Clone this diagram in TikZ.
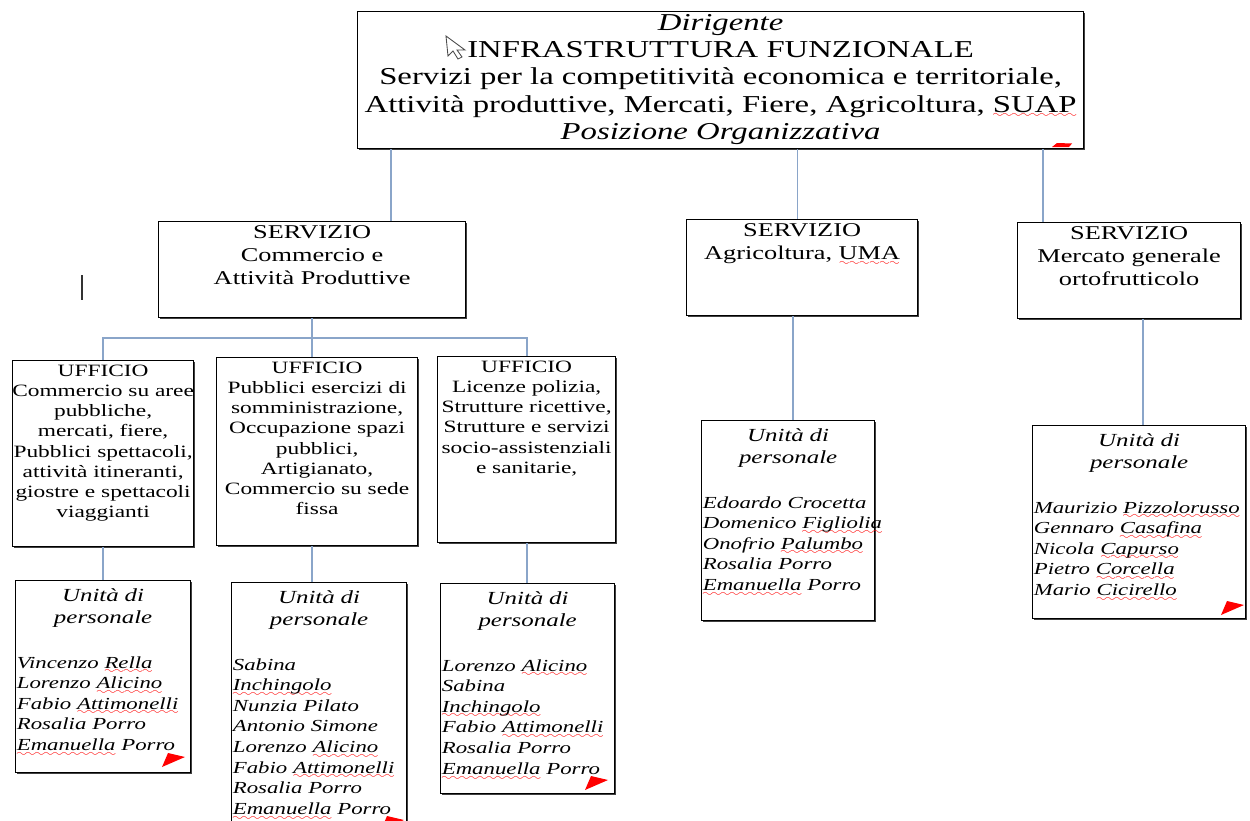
\documentclass[tikz,border=0pt]{standalone}
\usepackage{fontspec}
\setmainfont{Liberation Serif}[FakeStretch=1.35]
\usetikzlibrary{calc,shadows}

\font\wavefont=lasy6
\newcommand\spellerr[1]{\leavevmode{\setbox0\hbox{#1}\rlap{\lower3.2pt\hbox to\wd0{\color{red}\xleaders\hbox{\wavefont\char58}\hfill}}\box0}}
\newcommand\topfont{\fontsize{13.8}{15.6}\selectfont}
\newcommand\srvfont{\fontsize{11.1}{13}\selectfont}
\newcommand\ufffont{\fontsize{9.85}{11.5}\selectfont}
\newcommand\namefont{\fontsize{9.6}{11.7}\selectfont\itshape}
\newcommand\unitahead{{\centering\fontsize{10.5}{12.5}\selectfont\itshape Unità di\\personale\par}\vspace{14pt}\namefont}

\begin{document}
\begin{tikzpicture}[x=0.2mm,y=-0.2mm,
  box/.style={draw=black, line width=0.7pt, fill=white, anchor=north west, inner sep=0pt,
    drop shadow={shadow xshift=0.8pt, shadow yshift=-0.8pt, fill=black!75, opacity=1}},
  sz/.style 2 args={minimum width=#1*0.2mm, minimum height=#2*0.2mm},
  txt/.style={anchor=north, align=center, inner sep=2.5pt},
  staff/.style={anchor=north, align=left, inner xsep=1.2pt, inner ysep=4.5pt, text width=#1},
  wire/.style={draw=wireblue, line width=1.1pt},
  redflag/.pic={\fill[red] (0,14) -- (6,0) -- (23,4) -- cycle;}]
  \definecolor{wireblue}{HTML}{8AA5C9}
  \useasboundingbox (0,0) rectangle (1250,821);

  \node[box, sz={726}{137}, label={[txt, inner sep=1.5pt, font=\topfont]north:{\textit{Dirigente}\\
    INFRASTRUTTURA FUNZIONALE\\
    Servizi per la competitività economica e territoriale,\\
    Attività produttive, Mercati, Fiere, Agricoltura, \spellerr{SUAP}\\
    \textit{Posizione Organizzativa}}}] (dir) at (357,11) {};

  \node[box, sz={307}{96}, label={[txt, font=\srvfont]north:{SERVIZIO\\Commercio e\\Attività Produttive}}] (srv1) at (158,221) {};
  \node[box, sz={231}{96}, label={[txt, font=\srvfont]north:{SERVIZIO\\Agricoltura, \spellerr{UMA}}}] (srv2) at (686,219) {};
  \node[box, sz={223}{96}, label={[txt, font=\srvfont]north:{SERVIZIO\\Mercato generale\\ortofrutticolo}}] (srv3) at (1017,222) {};

  \node[box, sz={181}{186}, label={[txt, font=\ufffont]north:{UFFICIO\\Commercio su aree\\pubbliche,\\mercati, fiere,\\Pubblici spettacoli,\\attività itineranti,\\giostre e spettacoli\\viaggianti}}] (uff1) at (12,360) {};
  \node[box, sz={201}{188}, label={[txt, font=\ufffont]north:{UFFICIO\\Pubblici esercizi di\\somministrazione,\\Occupazione spazi\\pubblici,\\Artigianato,\\Commercio su sede\\fissa}}] (uff2) at (216,357) {};
  \node[box, sz={178}{186}, label={[txt, font=\ufffont]north:{UFFICIO\\Licenze polizia,\\Strutture ricettive,\\Strutture e servizi\\socio-assistenziali\\e sanitarie,}}] (uff3) at (437,356) {};

  \node[box, sz={175}{192}, label={[staff=34.5mm]north:{\unitahead
    Vincenzo \spellerr{Rella}\\Lorenzo \spellerr{Alicino}\\Fabio \spellerr{Attimonelli}\\Rosalia Porro\\\spellerr{Emanuella} Porro}}] (uni1) at (15,580) {};
  \node[box, sz={175}{260}, label={[staff=34.5mm]north:{\unitahead
    Sabina\\\spellerr{Inchingolo}\\Nunzia Pilato\\Antonio Simone\\Lorenzo \spellerr{Alicino}\\Fabio \spellerr{Attimonelli}\\Rosalia Porro\\\spellerr{Emanuella} Porro}}] (uni2) at (231,582) {};
  \node[box, sz={174}{210}, label={[staff=34.3mm]north:{\unitahead
    Lorenzo \spellerr{Alicino}\\Sabina\\\spellerr{Inchingolo}\\Fabio \spellerr{Attimonelli}\\Rosalia Porro\\\spellerr{Emanuella} Porro}}] (uni3) at (440,583) {};
  \node[box, sz={173}{200}, label={[staff=34.1mm]north:{\unitahead
    Edoardo Crocetta\\Domenico~\spellerr{Figliolia}\\Onofrio \spellerr{Palumbo}\\Rosalia Porro\\\spellerr{Emanuella} Porro}}] (uni4) at (701,420) {};
  \node[box, sz={213}{193}, label={[staff=42.1mm]north:{\unitahead
    Maurizio \spellerr{Pizzolorusso}\\Gennaro \spellerr{Casafina}\\Nicola \spellerr{Capurso}\\Pietro \spellerr{Corcella}\\Mario \spellerr{Cicirello}}}] (uni5) at (1032,425) {};

  \coordinate (t1) at ($(srv1.north west)!0.755!(srv1.north east)$);
  \coordinate (t2) at ($(srv2.north west)!0.48!(srv2.north east)$);
  \coordinate (t3) at ($(srv3.north west)!0.117!(srv3.north east)$);
  \draw[wire] (t1 |- dir.south) -- (t1);
  \draw[wire] (t2 |- dir.south) -- (t2);
  \draw[wire] (t3 |- dir.south) -- (t3);

  \coordinate (bus) at ($(srv1.south)+(0,20)$);
  \draw[wire] (srv1.south) -- (bus);
  \draw[wire] (bus) -| (uff1.north);
  \draw[wire] (bus) -- (bus |- uff2.north);
  \draw[wire] (bus) -| (uff3.north);

  \draw[wire] (uff1.south) -- (uff1.south |- uni1.north);
  \draw[wire] (bus |- uff2.south) -- (bus |- uni2.north);
  \draw[wire] (uff3.south) -- (uff3.south |- uni3.north);

  \coordinate (t4) at ($(uni4.north west)!0.53!(uni4.north east)$);
  \coordinate (t5) at ($(uni5.north west)!0.516!(uni5.north east)$);
  \draw[wire] (t4 |- srv2.south) -- (t4);
  \draw[wire] (t5 |- srv3.south) -- (t5);

  \fill[red] (1052,147) -- (1057,143) -- (1072,143.5) -- (1069,147) -- cycle;
  \pic at (162,753) {redflag};
  \pic at (381,816) {redflag};
  \pic at (585,776) {redflag};
  \pic at (1221,601) {redflag};

  \draw[black!70, fill=white, line width=0.5pt] (446,36) -- (448,56) -- (453,51) -- (458,59)
    -- (462,57) -- (457,50) -- (465,50) -- cycle;
  \draw[black!80, line width=1.2pt] (82,275) -- (82,300);
\end{tikzpicture}
\end{document}
